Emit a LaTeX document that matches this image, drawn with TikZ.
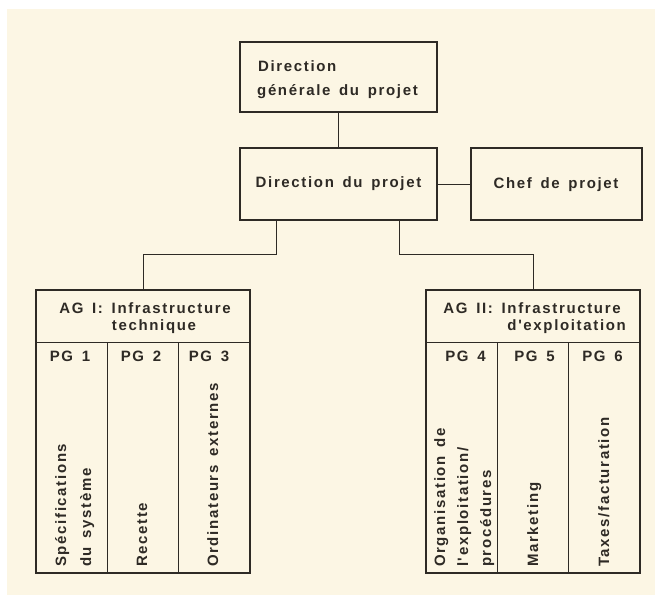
\documentclass[tikz,border=0pt]{standalone}
\usepackage{fontspec}
\newfontfamily\labfont[LetterSpace=11,WordSpace=1.5]{Liberation Sans}
\definecolor{cream}{HTML}{FCF6E4}
\definecolor{ink}{HTML}{2E2A25}
\tikzset{
  box/.style={draw=ink, line width=1.8pt, rectangle, inner sep=0pt, fill=cream},
  conn/.style={draw=ink, line width=0.9pt},
  divl/.style={draw=ink, line width=0.9pt},
  lbl/.style={text=ink, font=\labfont\bfseries\fontsize{15}{18}\selectfont, inner sep=0pt, anchor=base},
  vlbl/.style={lbl, rotate=90, anchor=base west},
}
\begin{document}
\begin{tikzpicture}[x=1pt,y=-1pt]
\useasboundingbox (0,0) rectangle (655,595);
\fill[white] (0,0) rectangle (655,595);
\fill[cream] (7,9) rectangle (655,595);

% boxes
\node[box, minimum width=197pt, minimum height=70pt] (top) at (338.5,77) {};
\node[box, minimum width=197pt, minimum height=72pt] (mid) at (338.5,184) {};
\node[box, minimum width=171pt, minimum height=72pt] (chef) at (556.5,184) {};
\node[box, minimum width=214pt, minimum height=283pt] (agI) at (143,431.5) {};
\node[box, minimum width=214pt, minimum height=283pt] (agII) at (533,431.5) {};

% connectors
\draw[conn] (top.south) -- (mid.north);
\draw[conn] (mid.east) -- (chef.west);
\draw[conn] ([xshift=-62.5pt]mid.south) -- ++(0,34) -| (agI.north);
\draw[conn] ([xshift=60.5pt]mid.south) -- ++(0,34) -| (agII.north);

% internal dividers
\foreach \b in {agI,agII}{
  \draw[divl] ([yshift=-53pt]\b.north west) -- ([yshift=-53pt]\b.north east);
  \draw[divl] ([xshift=72pt,yshift=-53pt]\b.north west) -- ([xshift=72pt]\b.south west);
  \draw[divl] ([xshift=143pt,yshift=-53pt]\b.north west) -- ([xshift=143pt]\b.south west);
}

% texts
\node[lbl, anchor=base west] (t1) at (258,71) {Direction};
\node[lbl, anchor=base west] (t2) at (257,95) {générale du projet};
\node[lbl] (t3) at (338.5,187) {Direction du projet};
\node[lbl] (t4) at (556,188) {Chef de projet};

\node[lbl] (h1) at (145,313) {AG I: Infrastructure};
\node[lbl] (h2) at (154,330) {technique};
\node[lbl] (h3) at (532,313) {AG II: Infrastructure};
\node[lbl, anchor=base east] (h4) at (626,330) {d'exploitation};

\node[lbl] (p1) at (70,361) {PG 1};
\node[lbl] (p2) at (141,361) {PG 2};
\node[lbl] (p3) at (209,361) {PG 3};
\node[lbl] (p4) at (465.5,361) {PG 4};
\node[lbl] (p5) at (534.5,361) {PG 5};
\node[lbl] (p6) at (602.5,361) {PG 6};

\node[vlbl] (v1) at (66,567) {Spécifications};
\node[vlbl] (v2) at (91,567) {du système};
\node[vlbl] (v3) at (147,567) {Recette};
\node[vlbl] (v4) at (218,567) {Ordinateurs externes};
\node[vlbl] (v5) at (445,567) {Organisation de};
\node[vlbl] (v6) at (468,567) {l'exploitation/};
\node[vlbl] (v7) at (491,567) {procédures};
\node[vlbl] (v8) at (538,567) {Marketing};
\node[vlbl] (v9) at (609,567) {Taxes/facturation};
\end{tikzpicture}
\end{document}
